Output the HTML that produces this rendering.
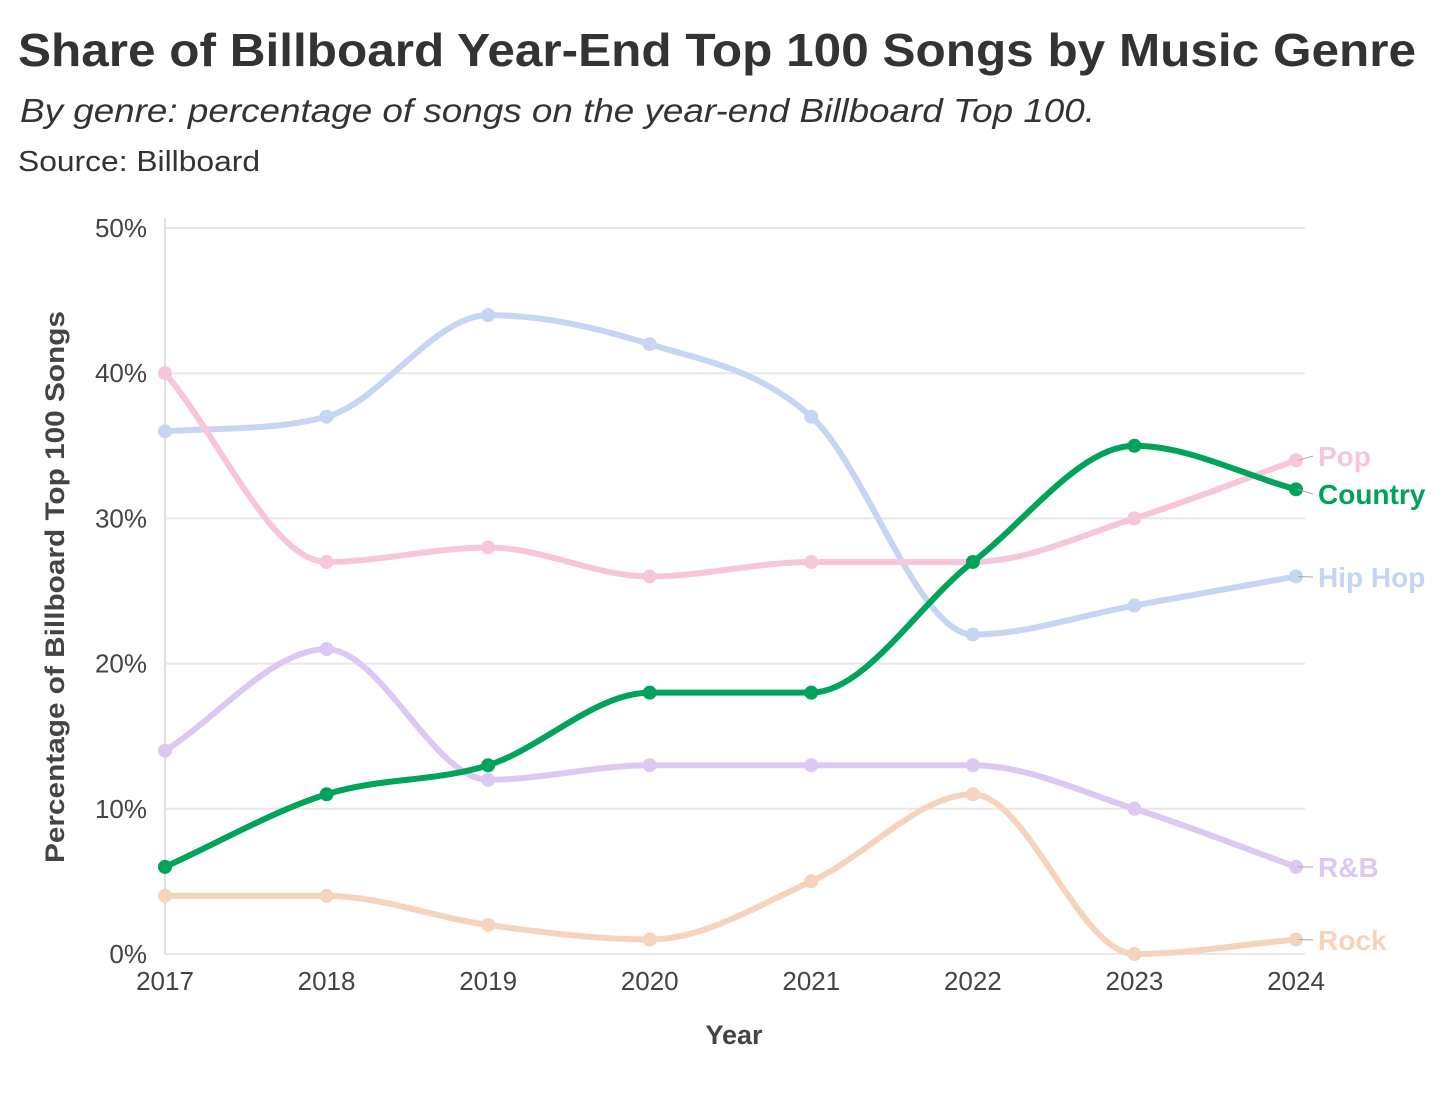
<!DOCTYPE html>
<html><head><meta charset="utf-8"><style>
body{margin:0;background:#fff;width:1456px;height:1089px;overflow:hidden;font-family:"Liberation Sans",sans-serif;color:#333}
</style></head><body>
<svg width="1456" height="1089">
<text x="18" y="66" font-size="46" font-weight="bold" fill="#333" textLength="1398" lengthAdjust="spacingAndGlyphs">Share of Billboard Year-End Top 100 Songs by Music Genre</text>
<text x="20" y="122" font-size="33" font-style="italic" fill="#333" textLength="1075" lengthAdjust="spacingAndGlyphs">By genre: percentage of songs on the year-end Billboard Top 100.</text>
<text x="18" y="171" font-size="29" fill="#333" textLength="242" lengthAdjust="spacingAndGlyphs">Source: Billboard</text>
<g id="grid"></g><g id="axes"></g><g id="lines"></g><g id="labels"></g>
<text x="734" y="1044" font-size="27" font-weight="bold" text-anchor="middle" fill="#444">Year</text>
<text transform="translate(64,587) rotate(-90)" font-size="27" font-weight="bold" text-anchor="middle" fill="#444" textLength="552" lengthAdjust="spacingAndGlyphs">Percentage of Billboard Top 100 Songs</text>
</svg>
<script>
const years=[2017,2018,2019,2020,2021,2022,2023,2024];
const yTicks=[0,10,20,30,40,50];
const seriesNames=["Hip Hop","Pop","R&B","Rock","Country"];
const hipHop=[36,37,44,42,37,22,24,26];
const pop=[40,27,28,26,27,27,30,34];
const rnb=[14,21,12,13,13,13,10,6];
const rock=[4,4,2,1,5,11,0,1];
const country=[6,11,13,18,18,27,35,32];
const colors=["#c5d5f3","#f7c6da","#dcc8f3","#f5d3bc","#00a35a"];
const labelY=[577,456,867,940,494];
const NS="http://www.w3.org/2000/svg";
const x=v=>165+(v-2017)*(1296-165)/7;
const y=v=>954-v*(954-228)/50;
function mk(tag,attrs,parent){const e=document.createElementNS(NS,tag);for(const k in attrs)e.setAttribute(k,attrs[k]);document.getElementById(parent).appendChild(e);return e;}
yTicks.forEach(t=>{
 const l=mk('line',{x1:165,x2:1305,y1:y(t),y2:y(t),stroke:'#e8e8e8','stroke-width':2},'grid');
 
 
 const tx=mk('text',{x:147,y:y(t)+9,'font-size':26,'text-anchor':'end',fill:'#444'},'axes');tx.textContent=t+'%';
 
 
});
const ax=mk('line',{x1:165,x2:165,y1:218,y2:954,stroke:'#e0e0e0','stroke-width':2},'axes');


years.forEach(yr=>{
 const tx=mk('text',{x:x(yr),y:990,'font-size':26,'text-anchor':'middle',fill:'#444'},'axes');tx.textContent=yr;
 
 
});
function monotone(px,py){
 const n=px.length,d=[],m=[];
 for(let i=0;i<n-1;i++)d.push((py[i+1]-py[i])/(px[i+1]-px[i]));
 m[0]=d[0];m[n-1]=d[n-2];
 for(let i=1;i<n-1;i++){m[i]=(d[i-1]*d[i]<=0)?0:(d[i-1]+d[i])/2;}
 for(let i=0;i<n-1;i++){if(d[i]===0){m[i]=0;m[i+1]=0;continue;}const a=m[i]/d[i],b=m[i+1]/d[i],s=a*a+b*b;if(s>9){const t=3/Math.sqrt(s);m[i]=t*a*d[i];m[i+1]=t*b*d[i];}}
 let p=`M${px[0]},${py[0]}`;
 for(let i=0;i<n-1;i++){const h=(px[i+1]-px[i])/3;p+=`C${px[i]+h},${py[i]+m[i]*h} ${px[i+1]-h},${py[i+1]-m[i+1]*h} ${px[i+1]},${py[i+1]}`;}
 return p;
}
[hipHop,pop,rnb,rock,country].forEach((vals,si)=>{
 const px=years.map(x),py=vals.map(y);
 const path=mk('path',{d:monotone(px,py),fill:'none',stroke:colors[si],'stroke-width':6},'lines');
 
 
 vals.forEach((v,i)=>{
  const c=mk('circle',{cx:x(years[i]),cy:y(v),r:7,fill:colors[si]},'lines');
  
  
 });
 const ly=labelY[si];
 const ll=mk('line',{x1:1298,y1:y(vals[7]),x2:1313,y2:ly,stroke:'#aaa','stroke-width':1},'labels');
 
 
 const t=mk('text',{x:1318,y:ly+10,'font-size':28,'font-weight':'bold',fill:colors[si]},'labels');t.textContent=seriesNames[si];
 
 
});
</script>
</body></html>
